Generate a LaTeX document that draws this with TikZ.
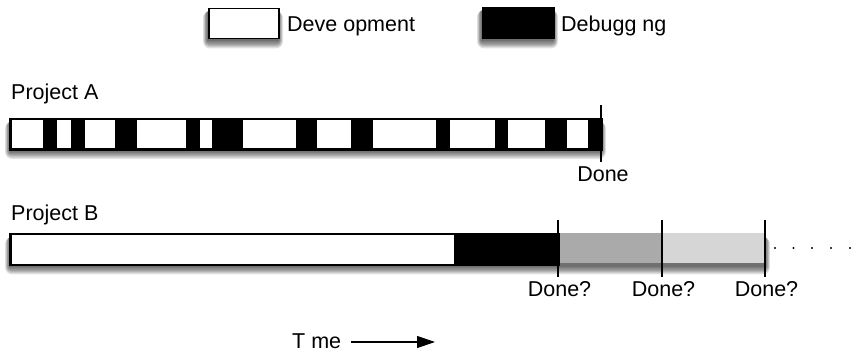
\documentclass[tikz,border=0pt]{standalone}
\usepackage{fontspec}
\setmainfont{Liberation Sans}
\usetikzlibrary{arrows.meta}
\definecolor{lategray}{HTML}{AAAAAA}
\definecolor{latergray}{HTML}{D6D6D6}
% soft drop shadow under a box: left, top, right, bottom (y grows downwards)
\newcommand\boxshade[4]{%
  \foreach \r in {1,...,7}
    \fill[black, opacity=0.11, rounded corners=\r pt]
      ({#1-\r*0.7}, {#2+3}) rectangle ({#3+\r*0.7}, {#4+2+\r*1.2});%
}
\begin{document}
\begin{tikzpicture}[x=1pt,y=-1pt,
  font=\fontsize{21.5}{24}\selectfont,
  frame/.style={draw=black, line width=1.5pt},
  barbox/.style={frame, fill=white, inner sep=0pt, anchor=north west},
  marker/.style={line width=1.5pt},
  txt/.style={inner sep=0pt, anchor=base},
  txtl/.style={inner sep=0pt, anchor=base west}
]
\useasboundingbox (0,0) rectangle (860,355);

% legend
\boxshade{208}{8}{278}{38}
\node[barbox, minimum width=70pt, minimum height=30pt] (keydev) at (208,8) {};
\node[txtl] (keydevtxt) at (287,31.5) {Deve opment};
\boxshade{482}{7}{553}{38}
\node[barbox, fill=black, minimum width=71pt, minimum height=31pt] (keydbg) at (482,7) {};
\node[txtl] (keydbgtxt) at (561,31.5) {Debugg ng};

% project A: development and debugging interleaved
\node[txtl] (projA) at (11,100) {Project A};
\boxshade{10}{118.5}{601}{148.5}
\node[barbox, minimum width=591pt, minimum height=30pt] (barA) at (10,118.5) {};
\foreach \a/\b in {43/57,71/85,115/137,186/200,212/243,296/317,351/373,436/450,495/508,545/567,588/601}
  \fill[black] (\a,118.5) rectangle (\b,148.5);
\draw[frame] (barA.north west) rectangle (barA.south east);
\coordinate (doneAtop) at (601,105);
\coordinate (doneAbot) at (601,162);
\draw[marker] (doneAtop) -- (doneAbot);
\node[txt] (doneA) at (603,181.5) {Done};

% project B: development first, debugging at the end
\node[txtl] (projB) at (11,220.5) {Project B};
\boxshade{10}{234}{765}{264}
\fill[lategray] (558,233.5) rectangle (662,263.5);
\fill[latergray] (662,233.5) rectangle (765,263.5);
\node[barbox, minimum width=548pt, minimum height=30pt] (barB) at (10,234) {};
\fill[black] (455,234) rectangle (558,264);
\draw[frame] (barB.north west) rectangle (barB.south east);
\draw[frame] (455,234) -- (455,264);

\foreach \x/\n in {558/1,662/2,765/3}{
  \coordinate (doneB\n top) at (\x,220);
  \coordinate (doneB\n bot) at (\x,277);
  \draw[marker] (doneB\n top) -- (doneB\n bot);
  \node[txt] (doneB\n) at (\x+1.5,297) {Done?};
}
\foreach \x in {775,793.5,812,831,850}
  \fill[black] (\x,248) circle (1.1pt);

% time axis
\node[txtl] (time) at (292,349) {T me};
\coordinate (timeend) at (435,342);
\draw[line width=1.2pt, -{Triangle[length=18pt,width=12pt]}] ([xshift=10pt]time.east |- timeend) -- (timeend);
\end{tikzpicture}
\end{document}
